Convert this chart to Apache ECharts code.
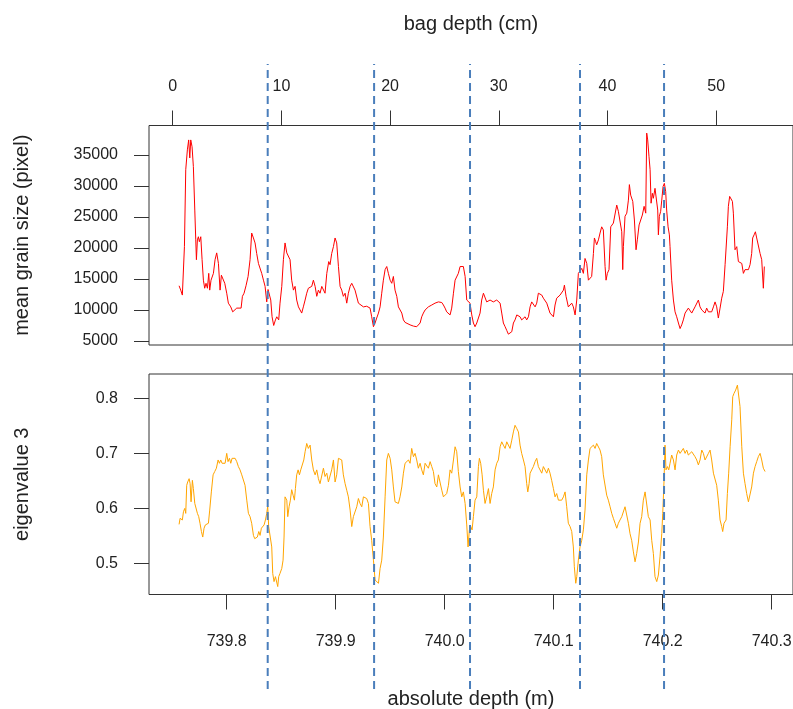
<!DOCTYPE html>
<html><head><meta charset="utf-8">
<script src="https://cdn.jsdelivr.net/npm/echarts@6/dist/echarts.min.js"></script>
<style>html,body{margin:0;padding:0;background:#fff}#c{width:793px;height:709px}</style>
</head><body><div id="c"></div>
<script>
// absolute depth (m) of each grain-size reading
const grainDepth = [
739.7563,739.7578,739.7593,739.7612,739.7624,739.7639,739.7651,739.7661,739.7670,739.7682,
739.7694,739.7707,739.7716,739.7722,739.7731,739.7740,739.7749,739.7762,739.7774,739.7786,
739.7798,739.7810,739.7823,739.7835,739.7844,739.7856,739.7866,739.7878,739.7893,739.7908,
739.7924,739.7939,739.7951,739.7966,739.7982,739.8000,739.8015,739.8037,739.8055,739.8070,
739.8092,739.8113,739.8132,739.8144,739.8159,739.8177,739.8196,739.8214,739.8229,739.8245,
739.8260,739.8275,739.8291,739.8306,739.8321,739.8337,739.8352,739.8367,739.8379,739.8392,
739.8404,739.8416,739.8431,739.8447,739.8459,739.8477,739.8489,739.8505,739.8520,739.8535,
739.8551,739.8569,739.8581,739.8596,739.8612,739.8627,739.8642,739.8658,739.8673,739.8688,
739.8703,739.8719,739.8734,739.8749,739.8765,739.8780,739.8795,739.8811,739.8826,739.8841,
739.8856,739.8872,739.8887,739.8902,739.8918,739.8936,739.8948,739.8963,739.8979,739.8994,
739.9009,739.9025,739.9040,739.9055,739.9070,739.9086,739.9101,739.9116,739.9132,739.9147,
739.9162,739.9177,739.9193,739.9208,739.9223,739.9254,739.9284,739.9315,739.9330,739.9346,
739.9361,739.9376,739.9392,739.9407,739.9422,739.9437,739.9453,739.9468,739.9483,739.9499,
739.9514,739.9529,739.9544,739.9560,739.9575,739.9590,739.9606,739.9621,739.9636,739.9651,
739.9682,739.9713,739.9743,739.9758,739.9774,739.9789,739.9804,739.9820,739.9835,739.9850,
739.9866,739.9881,739.9896,739.9911,739.9927,739.9942,739.9957,739.9973,739.9988,740.0003,
740.0018,740.0034,740.0049,740.0064,740.0080,740.0095,740.0110,740.0125,740.0141,740.0156,
740.0171,740.0187,740.0202,740.0217,740.0232,740.0248,740.0263,740.0278,740.0294,740.0309,
740.0324,740.0339,740.0355,740.0370,740.0385,740.0401,740.0416,740.0446,740.0477,740.0492,
740.0508,740.0523,740.0538,740.0554,740.0569,740.0584,740.0599,740.0615,740.0630,740.0645,
740.0661,740.0676,740.0691,740.0706,740.0722,740.0737,740.0752,740.0768,740.0783,740.0798,
740.0813,740.0829,740.0844,740.0859,740.0874,740.0890,740.0905,740.0936,740.0966,740.0997,
740.1012,740.1027,740.1058,740.1073,740.1089,740.1098,740.1113,740.1134,740.1150,740.1165,
740.1180,740.1196,740.1211,740.1226,740.1241,740.1257,740.1272,740.1287,740.1303,740.1318,
740.1333,740.1348,740.1364,740.1373,740.1385,740.1394,740.1410,740.1425,740.1440,740.1455,
740.1471,740.1480,740.1492,740.1507,740.1523,740.1532,740.1547,740.1563,740.1578,740.1593,
740.1608,740.1624,740.1633,740.1639,740.1654,740.1670,740.1685,740.1694,740.1706,740.1725,
740.1740,740.1755,740.1767,740.1783,740.1798,740.1813,740.1829,740.1844,740.1853,740.1862,
740.1874,740.1884,740.1893,740.1905,740.1914,740.1929,740.1945,740.1954,740.1960,740.1969,
740.1981,740.1991,740.2003,740.2015,740.2027,740.2036,740.2049,740.2061,740.2067,740.2082,
740.2098,740.2113,740.2128,740.2144,740.2159,740.2174,740.2189,740.2205,740.2220,740.2235,
740.2251,740.2266,740.2281,740.2296,740.2312,740.2327,740.2342,740.2358,740.2373,740.2388,
740.2403,740.2419,740.2434,740.2449,740.2465,740.2480,740.2495,740.2510,740.2526,740.2541,
740.2556,740.2572,740.2581,740.2593,740.2602,740.2614,740.2627,740.2639,740.2648,740.2663,
740.2679,740.2694,740.2709,740.2725,740.2740,740.2755,740.2770,740.2786,740.2801,740.2816,
740.2825,740.2838,740.2850,740.2862,740.2877,740.2893,740.2908,740.2923,740.2932
];
// mean grain size (pixel)
const grainSize = [
13900,13200,12400,20200,32600,35800,37400,34500,37400,36300,
33100,26100,21300,18100,21300,21800,21000,21800,18100,14800,
13500,14300,13500,15900,13200,14800,14600,15900,18100,19200,
17500,13200,15600,15900,14300,12700,11100,10500,9700,9700,
10300,10300,10300,12200,12700,13900,15400,18100,22400,21600,
20800,19100,17500,17300,15900,14800,13800,11300,13300,13200,
11600,8900,7500,8400,8900,8400,11100,13800,18100,20800,
19200,19100,18100,14800,13200,13800,11600,10500,10000,9500,
10500,11600,12700,13500,13200,13800,14800,13800,12200,13200,
12700,13800,13800,12700,15900,17800,17300,19100,20200,21600,
20800,17000,13800,13200,12200,12700,11100,12700,13800,14300,
14600,13200,13000,11100,10800,10500,10600,10300,8900,7300,
7900,8700,9500,10500,12700,14800,16500,17000,15900,14800,
14300,15400,13200,12200,10500,10300,9500,8400,8000,7900,
7600,7400,7300,7000,7900,8900,9500,10000,10300,10500,
10300,10800,10500,11100,10800,11300,11300,11200,10800,10300,
9700,9500,9200,10300,12700,14800,15100,15900,17000,17300,
17000,15400,11600,11500,11100,9200,7900,7300,7900,8100,
9500,11600,12700,12400,11300,11100,11600,11300,11600,11800,
11100,9500,7900,7300,6700,6100,5800,6500,7900,8400,
9200,9200,8900,8400,8700,8900,8400,8900,10500,11300,
11100,10500,11100,12700,12700,12400,11900,11100,9500,8900,
10800,11900,12400,12200,13200,14000,12200,10500,10800,11100,
10500,9200,11600,15900,15900,16700,15900,18300,17500,14800,
15100,15400,19100,21600,21000,20500,21300,22400,23400,22900,
17000,14800,15900,16500,23400,23200,24000,24000,26900,25900,
26100,22600,16500,20200,25100,25600,27700,30200,28500,27500,
24500,19700,21300,23700,24000,25300,26700,25600,38500,37400,
34700,32600,27200,28800,28000,29600,29900,26100,22100,25100,
25900,27700,29900,30400,29100,26100,23400,22100,20200,14800,
11600,9700,8900,7900,7000,7600,8400,9500,9500,10300,
10000,9500,9500,10500,10800,11600,10500,10000,10300,9500,
10300,9700,10000,9700,10500,11300,10500,8700,10300,11900,
13000,17300,17000,23400,26700,28300,28500,27500,25600,19700,
20200,17800,18100,17500,15900,16500,16700,16500,17300,19100,
21600,22100,22600,21600,21300,19100,18100,13500,17000
];
// absolute depth (m) of each eigenvalue reading
const eigDepth = [
739.7563,739.7572,739.7584,739.7593,739.7603,739.7615,739.7624,739.7633,739.7642,739.7655,
739.7664,739.7673,739.7685,739.7694,739.7707,739.7719,739.7731,739.7743,739.7755,739.7768,
739.7780,739.7792,739.7804,739.7817,739.7832,739.7844,739.7859,739.7875,739.7890,739.7905,
739.7921,739.7933,739.7945,739.7957,739.7970,739.7985,739.8000,739.8012,739.8025,739.8037,
739.8049,739.8061,739.8077,739.8092,739.8107,739.8122,739.8138,739.8153,739.8168,739.8184,
739.8199,739.8214,739.8229,739.8245,739.8257,739.8269,739.8281,739.8294,739.8306,739.8318,
739.8330,739.8343,739.8355,739.8367,739.8376,739.8385,739.8398,739.8413,739.8422,739.8434,
739.8447,739.8459,739.8468,739.8477,739.8489,739.8505,739.8517,739.8526,739.8535,739.8551,
739.8560,739.8572,739.8584,739.8596,739.8609,739.8621,739.8630,739.8642,739.8655,739.8667,
739.8679,739.8694,739.8707,739.8719,739.8734,739.8749,739.8765,739.8780,739.8795,739.8811,
739.8826,739.8841,739.8856,739.8872,739.8887,739.8902,739.8918,739.8933,739.8948,739.8963,
739.8979,739.8994,739.9009,739.9025,739.9040,739.9055,739.9070,739.9086,739.9101,739.9116,
739.9132,739.9147,739.9162,739.9177,739.9193,739.9208,739.9223,739.9239,739.9254,739.9269,
739.9284,739.9300,739.9315,739.9330,739.9346,739.9361,739.9376,739.9392,739.9407,739.9422,
739.9437,739.9453,739.9468,739.9483,739.9499,739.9514,739.9529,739.9544,739.9560,739.9575,
739.9590,739.9606,739.9621,739.9636,739.9651,739.9667,739.9682,739.9697,739.9713,739.9728,
739.9743,739.9758,739.9774,739.9789,739.9804,739.9820,739.9835,739.9850,739.9866,739.9881,
739.9896,739.9911,739.9927,739.9942,739.9957,739.9973,739.9988,740.0003,740.0018,740.0034,
740.0049,740.0064,740.0080,740.0095,740.0110,740.0125,740.0141,740.0156,740.0171,740.0187,
740.0202,740.0214,740.0226,740.0239,740.0251,740.0263,740.0278,740.0294,740.0309,740.0318,
740.0330,740.0343,740.0355,740.0370,740.0385,740.0401,740.0416,740.0431,740.0446,740.0462,
740.0477,740.0492,740.0508,740.0523,740.0538,740.0554,740.0569,740.0584,740.0599,740.0615,
740.0630,740.0645,740.0661,740.0676,740.0691,740.0706,740.0722,740.0737,740.0752,740.0762,
740.0774,740.0783,740.0798,740.0813,740.0829,740.0844,740.0859,740.0874,740.0890,740.0905,
740.0920,740.0936,740.0951,740.0966,740.0981,740.0997,740.1012,740.1027,740.1043,740.1058,
740.1073,740.1089,740.1104,740.1119,740.1134,740.1150,740.1165,740.1180,740.1189,740.1202,
740.1211,740.1226,740.1241,740.1257,740.1272,740.1287,740.1303,740.1318,740.1333,740.1348,
740.1364,740.1379,740.1394,740.1410,740.1425,740.1440,740.1455,740.1471,740.1486,740.1501,
740.1517,740.1532,740.1547,740.1563,740.1578,740.1593,740.1608,740.1624,740.1639,740.1654,
740.1670,740.1685,740.1700,740.1715,740.1731,740.1746,740.1761,740.1777,740.1792,740.1807,
740.1822,740.1838,740.1853,740.1868,740.1884,740.1899,740.1914,740.1929,740.1945,740.1960,
740.1975,740.1991,740.2000,740.2012,740.2021,740.2030,740.2043,740.2055,740.2067,740.2082,
740.2098,740.2113,740.2128,740.2144,740.2159,740.2174,740.2189,740.2205,740.2220,740.2235,
740.2251,740.2266,740.2281,740.2296,740.2312,740.2327,740.2342,740.2358,740.2373,740.2388,
740.2403,740.2419,740.2434,740.2449,740.2465,740.2480,740.2495,740.2510,740.2526,740.2541,
740.2550,740.2562,740.2581,740.2593,740.2605,740.2618,740.2633,740.2642,740.2654,740.2669,
740.2685,740.2697,740.2709,740.2725,740.2740,740.2755,740.2770,740.2786,740.2801,740.2816,
740.2832,740.2847,740.2862,740.2877,740.2893,740.2908,740.2923,740.2939
];
// eigenvalue 3
const eigenvalue3 = [
0.571,0.582,0.585,0.579,0.594,0.600,0.591,0.642,0.648,0.654,
0.645,0.612,0.651,0.636,0.609,0.612,0.591,0.585,0.573,0.558,
0.548,0.564,0.570,0.568,0.573,0.597,0.630,0.661,0.667,0.673,
0.688,0.682,0.688,0.682,0.685,0.682,0.700,0.685,0.691,0.682,
0.691,0.694,0.691,0.685,0.676,0.670,0.661,0.658,0.642,0.615,
0.591,0.585,0.573,0.551,0.545,0.542,0.548,0.558,0.551,0.564,
0.561,0.570,0.579,0.591,0.604,0.567,0.564,0.530,0.482,0.467,
0.476,0.473,0.458,0.476,0.482,0.491,0.506,0.548,0.621,0.615,
0.585,0.603,0.615,0.634,0.624,0.615,0.636,0.661,0.670,0.661,
0.670,0.673,0.688,0.703,0.718,0.709,0.715,0.688,0.670,0.661,
0.670,0.654,0.645,0.648,0.673,0.658,0.664,0.648,0.645,0.670,
0.688,0.648,0.661,0.691,0.694,0.688,0.661,0.645,0.633,0.621,
0.597,0.567,0.585,0.585,0.603,0.618,0.609,0.603,0.621,0.618,
0.618,0.609,0.567,0.542,0.506,0.470,0.467,0.464,0.491,0.506,
0.548,0.621,0.688,0.700,0.691,0.670,0.639,0.612,0.609,0.609,
0.621,0.639,0.664,0.682,0.685,0.688,0.682,0.709,0.694,0.700,
0.688,0.673,0.682,0.670,0.661,0.682,0.685,0.673,0.685,0.676,
0.667,0.645,0.639,0.661,0.664,0.633,0.621,0.618,0.627,0.642,
0.670,0.664,0.688,0.712,0.703,0.667,0.639,0.621,0.630,0.609,
0.570,0.530,0.561,0.567,0.561,0.585,0.615,0.621,0.676,0.691,
0.682,0.661,0.633,0.609,0.621,0.636,0.609,0.627,0.639,0.670,
0.682,0.688,0.712,0.721,0.715,0.709,0.721,0.724,0.709,0.724,
0.739,0.751,0.745,0.739,0.715,0.700,0.688,0.676,0.645,0.630,
0.645,0.664,0.661,0.676,0.685,0.691,0.676,0.676,0.664,0.676,
0.679,0.664,0.673,0.664,0.651,0.636,0.621,0.627,0.615,0.612,
0.615,0.621,0.630,0.603,0.573,0.567,0.558,0.530,0.494,0.464,
0.476,0.506,0.530,0.542,0.561,0.597,0.661,0.688,0.709,0.712,
0.715,0.709,0.718,0.721,0.706,0.694,0.661,0.658,0.624,0.615,
0.603,0.591,0.582,0.573,0.564,0.573,0.579,0.585,0.585,0.603,
0.600,0.573,0.554,0.542,0.521,0.503,0.518,0.539,0.573,0.585,
0.615,0.630,0.627,0.585,0.579,0.542,0.518,0.476,0.467,0.479,
0.512,0.554,0.591,0.651,0.715,0.670,0.676,0.670,0.682,0.697,
0.688,0.670,0.697,0.706,0.700,0.703,0.709,0.700,0.706,0.697,
0.694,0.703,0.700,0.694,0.688,0.679,0.688,0.706,0.700,0.688,
0.685,0.700,0.706,0.688,0.664,0.661,0.642,0.615,0.579,0.567,
0.558,0.573,0.579,0.627,0.664,0.712,0.761,0.803,0.809,0.815,
0.824,0.827,0.785,0.712,0.664,0.645,0.627,0.612,0.615,0.639,
0.664,0.676,0.685,0.694,0.700,0.688,0.673,0.667
];
// tick labels
const bagTicks = [0, 10, 20, 30, 40, 50];
const depthTicks = [739.8, 739.9, 740.0, 740.1, 740.2, 740.3];
const grainTicks = [5000, 10000, 15000, 20000, 25000, 30000, 35000];
const eigTicks = [0.5, 0.6, 0.7, 0.8];
// bag boundaries (absolute depth, m)
const bagBoundaries = [739.8376, 739.9352, 740.0232, 740.1241, 740.2012];
// axis extents
const depthRange = [739.7287, 740.3195];
const bagRange = [-2.18, 57.07];
const grainRange = [4355, 39726];
const eigRange = [0.4436, 0.8442];

const FONT = 'Liberation Sans, Arial, sans-serif';
const TXT = '#222';
const AX = '#333';

function tickCfg(vals){ return {show:true, inside:false, length:15, customValues: vals, lineStyle:{color:AX, width:1}}; }
function labelCfg(vals, margin, fmt){ return {show:true, customValues: vals, margin: margin, fontSize:16, fontFamily:FONT, color:TXT, formatter: fmt}; }
const nameStyle = {fontSize:20, fontFamily:FONT, color:TXT};
const noLine = {show:false, onZero:false};

const chart = echarts.init(document.getElementById('c'), null, {renderer:'canvas'});

const boundarySeries = bagBoundaries.map(b => ({
  type:'line', xAxisIndex:3, yAxisIndex:2, data:[[b,0],[b,1]],
  showSymbol:false, symbol:'none', silent:true, z:10,
  lineStyle:{color:'#4a7ebb', width:2, type:[8,5]}
}));

chart.setOption({
  animation:false,
  backgroundColor:'#fff',
  grid:[
    {left:149, right:0, top:125.5, height:219.5, show:true, borderColor:AX, borderWidth:1, backgroundColor:'transparent', containLabel:false, outerBoundsMode:'none'},
    {left:149, right:0, top:374, height:220.5, show:true, borderColor:AX, borderWidth:1, backgroundColor:'transparent', containLabel:false, outerBoundsMode:'none'},
    {left:149, right:0, top:64, bottom:20, show:false, containLabel:false, outerBoundsMode:'none'}
  ],
  xAxis:[
    {type:'value', gridIndex:0, position:'top', min:bagRange[0], max:bagRange[1],
     axisLine:noLine, splitLine:{show:false},
     axisTick:tickCfg(bagTicks), axisLabel:labelCfg(bagTicks, 31, v => String(v)),
     name:'bag depth (cm)', nameLocation:'middle', nameGap:91, nameTextStyle:nameStyle, nameMoveOverlap:false},
    {type:'value', gridIndex:0, show:false, min:depthRange[0], max:depthRange[1], axisLine:noLine},
    {type:'value', gridIndex:1, position:'bottom', min:depthRange[0], max:depthRange[1],
     axisLine:noLine, splitLine:{show:false},
     axisTick:tickCfg(depthTicks), axisLabel:labelCfg(depthTicks, 39, v => v.toFixed(1)),
     name:'absolute depth (m)', nameLocation:'middle', nameGap:95, nameTextStyle:nameStyle, nameMoveOverlap:false},
    {type:'value', gridIndex:2, show:false, min:depthRange[0], max:depthRange[1], axisLine:noLine}
  ],
  yAxis:[
    {type:'value', gridIndex:0, position:'left', min:grainRange[0], max:grainRange[1],
     axisLine:noLine, splitLine:{show:false},
     axisTick:tickCfg(grainTicks), axisLabel:labelCfg(grainTicks, 31, v => String(v)),
     name:'mean grain size (pixel)', nameLocation:'middle', nameGap:117, nameRotate:90, nameTextStyle:nameStyle, nameMoveOverlap:false},
    {type:'value', gridIndex:1, position:'left', min:eigRange[0], max:eigRange[1],
     axisLine:noLine, splitLine:{show:false},
     axisTick:tickCfg(eigTicks), axisLabel:labelCfg(eigTicks, 31, v => v.toFixed(1)),
     name:'eigenvalue 3', nameLocation:'middle', nameGap:117, nameRotate:90, nameTextStyle:nameStyle, nameMoveOverlap:false},
    {type:'value', gridIndex:2, show:false, min:0, max:1, axisLine:noLine}
  ],
  series:[
    {type:'line', xAxisIndex:1, yAxisIndex:0, showSymbol:false, symbol:'none', silent:true,
     data: grainDepth.map((d,i)=>[d, grainSize[i]]),
     lineStyle:{color:'#ff0000', width:1}, z:3},
    {type:'line', xAxisIndex:2, yAxisIndex:1, showSymbol:false, symbol:'none', silent:true,
     data: eigDepth.map((d,i)=>[d, eigenvalue3[i]]),
     lineStyle:{color:'#ffa500', width:1}, z:3}
  ].concat(boundarySeries)
});
</script>
</body></html>
